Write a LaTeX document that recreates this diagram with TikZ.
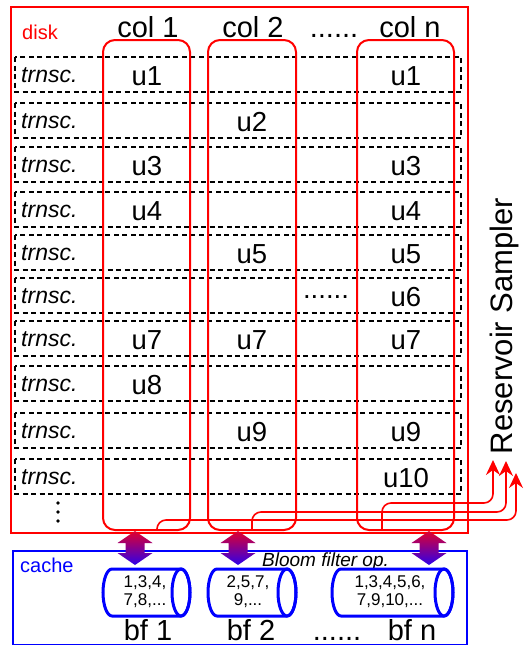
\documentclass[tikz,border=0pt]{standalone}
\usepackage{fontspec}
\setmainfont{Liberation Sans}
\usetikzlibrary{arrows.meta}

\begin{document}
\begin{tikzpicture}[x=1pt,y=-1pt,
  lbl/.style={font=\fontsize{23}{26}\selectfont\itshape, anchor=base west, inner sep=0pt},
  val/.style={font=\fontsize{27.5}{32}\selectfont, inner sep=0pt},
  hdr/.style={font=\fontsize{29}{34}\selectfont, anchor=base, inner sep=0pt},
  small/.style={font=\fontsize{17}{18}\selectfont, align=center, inner sep=0pt},
  rowbox/.style={draw=black, line width=1.4pt, dash pattern=on 5pt off 3.5pt},
  colbox/.style={draw=red, line width=2pt, rounded corners=12pt},
  samp/.style={draw=red, line width=1.6pt, rounded corners=9pt,
    -{Stealth[length=15pt,width=14pt,inset=5pt]}},
  cyl/.style={draw=blue, line width=3pt},
  bidircol/.style={top color={rgb,255:red,225;green,0;blue,45},
    bottom color={rgb,255:red,45;green,0;blue,235}},
  pics/bidir/.style={code={
    \shade[bidircol] (0,-17) -- (17.5,-5) -- (9.5,-5) -- (9.5,5) -- (17.5,5)
      -- (0,17) -- (-17.5,5) -- (-9.5,5) -- (-9.5,-5) -- (-17.5,-5) -- cycle;
  }},
  pics/bfcyl/.style 2 args={code={
    \pgfmathsetmacro\hw{#1/2}
    \pgfmathsetmacro\hh{#2/2}
    \draw[cyl] (-\hw+9,-\hh) -- (\hw-9,-\hh)
      arc[start angle=-90,end angle=90,x radius=9,y radius=\hh]
      -- (-\hw+9,\hh)
      arc[start angle=90,end angle=270,x radius=9,y radius=\hh] -- cycle;
    \draw[cyl] (\hw-9,0) ellipse[x radius=9,y radius=\hh];
  }}
]
\useasboundingbox (0,0) rectangle (531,646);

% column centres
\coordinate (c1) at (147,0);
\coordinate (c2) at (252,0);
\coordinate (cn) at (406,0);
\coordinate (cd) at (326,0);

% transaction rows
\foreach \t [count=\i] in {57,103,147,192,235,278,321,366,413,459} {
  \draw[rowbox] (15,\t) rectangle (461,\t+35);
  \node[lbl] (t\i) at (21,\t+25) {trnsc.};
  \coordinate (row\i) at (0,\t+19);
}

% column boxes
\draw[colbox] (103,40) rectangle (190,530);
\draw[colbox] (208,40) rectangle (296,530);
\draw[colbox] (357,40) rectangle (454,530);

% disk
\draw[red, line width=2pt] (11,7) rectangle (468,533);
\node[anchor=base west, inner sep=0pt, text=red, font=\fontsize{20}{22}\selectfont] (disk) at (22,39) {disk};

% headers
\node[hdr] (h1) at (148,37) {col 1};
\node[hdr] (h2) at (253,37) {col 2};
\node[hdr] (hd) at (334,37) {......};
\node[hdr] (hn) at (410,37) {col n};

% cell values
\foreach \r/\c/\v in {1/c1/u1, 1/cn/u1, 2/c2/u2, 3/c1/u3, 3/cn/u3, 4/c1/u4, 4/cn/u4,
  5/c2/u5, 5/cn/u5, 6/cn/u6, 7/c1/u7, 7/c2/u7, 7/cn/u7, 8/c1/u8,
  9/c2/u9, 9/cn/u9, 10/cn/u10} {
  \node[val] (v\r\c) at (\c |- row\r) {\v};
}
\node[val] (v6cd) at (cd |- row6) {......};

% more rows
\foreach \y in {503,512,521} {
  \fill (58,\y) circle[radius=1.8];
}

% reservoir sampler
\node[font=\fontsize{31}{34}\selectfont, rotate=90, anchor=base, inner sep=0pt] (rs) at (512,326) {Reservoir Sampler};
\coordinate (s1) at (157,530);
\coordinate (s2) at (252,530);
\coordinate (s3) at (382,530);
\coordinate (r1) at (516,473);
\coordinate (r2) at (506,461);
\coordinate (r3) at (493,460);
\draw[samp] (s1) |- (516,520) -- (r1);
\draw[samp] (s2) |- (506,512) -- (r2);
\draw[samp] (s3) |- (493,503) -- (r3);

% cache
\draw[blue, line width=1.6pt] (13,551) rectangle (467,644.5);
\node[anchor=base west, inner sep=0pt, text=blue, font=\fontsize{20}{22}\selectfont] (cache) at (20,572) {cache};
\node[anchor=base west, inner sep=0pt, font=\fontsize{19}{21}\selectfont\itshape] (bfop) at (262,566) {Bloom filter op.};

\pic at (146.5,592.5) {bfcyl={87}{47}};
\pic at (252,592.5) {bfcyl={88}{47}};
\pic at (392.5,592.5) {bfcyl={121}{47}};
\node[small] (bf1t) at (145,592) {1,3,4,\\7,8,...};
\node[small] (bf2t) at (248,592) {2,5,7,\\9,...};
\node[small] (bfnt) at (390,592) {1,3,4,5,6,\\7,9,10,...};

\node[hdr] (bf1) at (148,640) {bf 1};
\node[hdr] (bf2) at (251,640) {bf 2};
\node[hdr] (bfd) at (337,640) {......};
\node[hdr] (bfn) at (412,640) {bf n};

% disk <-> cache transfers
\pic at (135,548) {bidir};
\pic at (238,548) {bidir};
\pic at (429,548) {bidir};
\end{tikzpicture}
\end{document}
